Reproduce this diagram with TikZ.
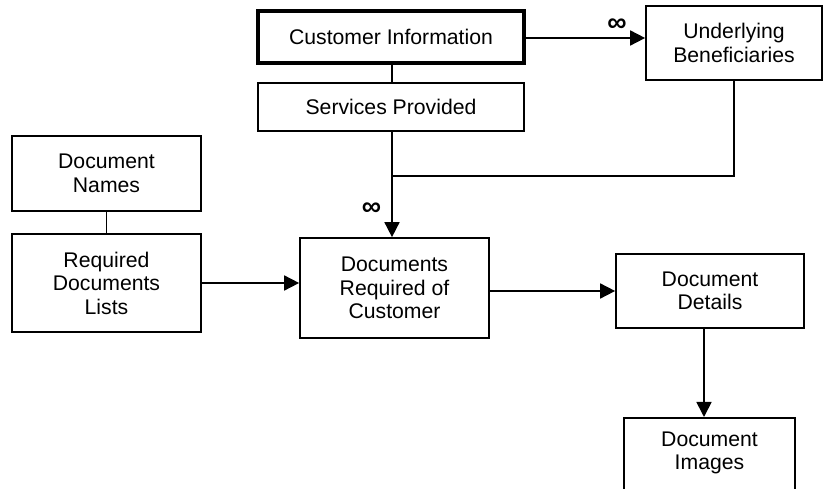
\documentclass[tikz,border=0pt]{standalone}
\usepackage{fontspec}
\setmainfont{Liberation Sans}
\usetikzlibrary{arrows.meta}
\begin{document}
\begin{tikzpicture}[x=1pt,y=-1pt,
  box/.style={draw, line width=1.7pt, inner sep=0pt, align=center,
    font=\fontsize{21.2}{23.5}\selectfont},
  conn/.style={line width=1.7pt},
  arr/.style={line width=1.7pt, -{Triangle[length=15pt,width=15pt]}},
  inf/.style={font=\fontsize{27}{27}\selectfont\bfseries, inner sep=0pt}]
\fill[white] (0,0) rectangle (823,489);
\useasboundingbox (0,0) rectangle (823,489);
\clip (0,0) rectangle (823,489);

\node[box, line width=3.3pt, minimum width=266pt, minimum height=52pt] (CI) at (391,37) {Customer Information};
\node[box, minimum width=266pt, minimum height=48pt] (SP) at (391,107) {Services Provided};
\node[box, minimum width=176pt, minimum height=74pt] (UB) at (734,43) {Underlying\\Beneficiaries};
\node[box, minimum width=189pt, minimum height=75pt] (DN) at (106.5,173.5) {Document\\Names};
\node[box, minimum width=189pt, minimum height=98pt] (RDL) at (106.5,283) {Required\\Documents\\Lists};
\node[box, minimum width=189pt, minimum height=100pt] (DRC) at (394.5,288) {Documents\\Required of\\Customer};
\node[box, minimum width=188pt, minimum height=74pt] (DD) at (710,291) {Document\\Details};
\node[box, minimum width=171pt, minimum height=95pt, anchor=north] (DI) at (709.5,417) {};
\node[box, draw=none] (DIt) at (709.5,453) {Document\\Images};

\coordinate (J) at (392,176);

\draw[conn] (CI.south -| J) -- (SP.north -| J);
\draw[arr] (CI.east |- 0,38) -- (UB.west |- 0,38)
  node[inf, pos=0.764, above=6pt] {∞};
\draw[arr] (SP.south -| J) -- (DRC.north -| J)
  node[inf, pos=0.73, left=10pt] {∞};
\draw[conn] (UB.south) |- (J);
\draw[conn] (DN.south) -- (RDL.north);
\draw[arr] (RDL.east |- 0,283) -- (DRC.west |- 0,283);
\draw[arr] (DRC.east |- 0,291) -- (DD.west |- 0,291);
\draw[arr] (DD.south -| 704,0) -- (DI.north -| 704,0);
\end{tikzpicture}
\end{document}
